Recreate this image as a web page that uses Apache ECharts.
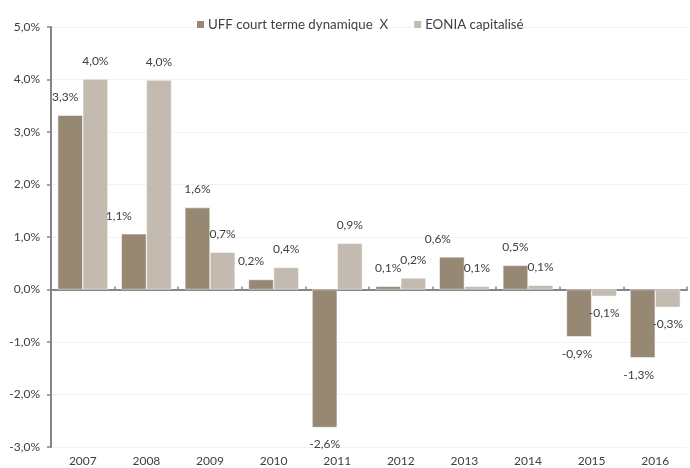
<!DOCTYPE html>
<html>
<head>
<meta charset="utf-8">
<script src="https://cdn.jsdelivr.net/npm/echarts@6/dist/echarts.min.js"></script>
<style>
html,body{margin:0;padding:0;background:#fff;}
#chart{width:690px;height:468px;}
</style>
</head>
<body>
<div id="chart"></div>
<script>
const categories = ['2007','2008','2009','2010','2011','2012','2013','2014','2015','2016'];
const seriesNames = ['UFF court terme dynamique  X', 'EONIA capitalisé'];
const uffValues = [3.32, 1.06, 1.56, 0.19, -2.63, 0.06, 0.62, 0.46, -0.90, -1.30];
const eoniaValues = [4.01, 3.99, 0.71, 0.42, 0.88, 0.22, 0.06, 0.08, -0.13, -0.34];
const yTicks = [-3, -2, -1, 0, 1, 2, 3, 4, 5];

// horizontal label nudges (px) for UFF labels that Excel shifted to avoid overlap
const uffLabelShift = [-5, -15, 0, -10, 0, 0, -14, 0, -2, -4];

const fmt = v => v.toFixed(1).replace('.', ',') + '%';
const FONT = 'Lato, "Open Sans", sans-serif';
const TXT = '#404040';

function buildData(values, shifts) {
  return values.map((v, i) => ({
    value: v,
    label: {
      position: v < 0 ? 'bottom' : 'top',
      distance: v < 0 ? 11 : 12,
      offset: [shifts ? shifts[i] : 0, 0]
    }
  }));
}

const labelCfg = {
  show: true,
  fontFamily: FONT,
  fontSize: 12,
  color: TXT,
  formatter: p => fmt(p.value)
};

const chart = echarts.init(document.getElementById('chart'), null, {renderer: 'canvas'});
chart.setOption({
  animation: false,
  backgroundColor: '#ffffff',
  legend: {
    top: 13,
    left: 190,
    itemWidth: 9,
    itemHeight: 9,
    itemGap: 24,
    icon: 'rect',
    textStyle: { fontFamily: FONT, fontSize: 13.3, color: TXT, padding: [0,0,0,-2] },
    data: seriesNames
  },
  grid: { left: 51, right: 3, top: 27, bottom: 21, containLabel: false },
  xAxis: [
    {
      type: 'category',
      data: categories,
      axisLine: { onZero: true, lineStyle: { color: '#868686', width: 2 } },
      axisTick: { show: true, inside: true, length: 3, alignWithLabel: false, lineStyle: { color: '#868686', width: 1.5 } },
      axisLabel: { show: false },
      splitLine: { show: false }
    },
    {
      type: 'category',
      data: categories,
      position: 'bottom',
      axisLine: { show: false, onZero: false },
      axisTick: { show: false },
      axisLabel: { show: true, margin: 8, fontFamily: FONT, fontSize: 12, color: TXT },
      splitLine: { show: false }
    }
  ],
  yAxis: {
    type: 'value',
    min: yTicks[0],
    max: yTicks[yTicks.length - 1],
    interval: 1,
    axisLine: { show: true, lineStyle: { color: '#868686', width: 2 } },
    axisTick: { show: true, length: 4, lineStyle: { color: '#868686', width: 1.5 } },
    axisLabel: { fontFamily: FONT, fontSize: 12, color: TXT, margin: 11, formatter: v => fmt(v) },
    splitLine: { show: true, lineStyle: { color: '#f2f2f2', width: 1 } }
  },
  series: [
    {
      name: seriesNames[0],
      type: 'bar',
      xAxisIndex: 0,
      barGap: '0%',
      barCategoryGap: '21%',
      itemStyle: { color: '#978873', borderColor: '#ffffff', borderWidth: 0.5 },
      label: labelCfg,
      data: buildData(uffValues, uffLabelShift)
    },
    {
      name: seriesNames[1],
      type: 'bar',
      xAxisIndex: 0,
      barGap: '0%',
      barCategoryGap: '21%',
      itemStyle: { color: '#c3bbb0', borderColor: '#ffffff', borderWidth: 0.5 },
      label: labelCfg,
      data: buildData(eoniaValues, null)
    }
  ]
});
</script>
</body>
</html>
